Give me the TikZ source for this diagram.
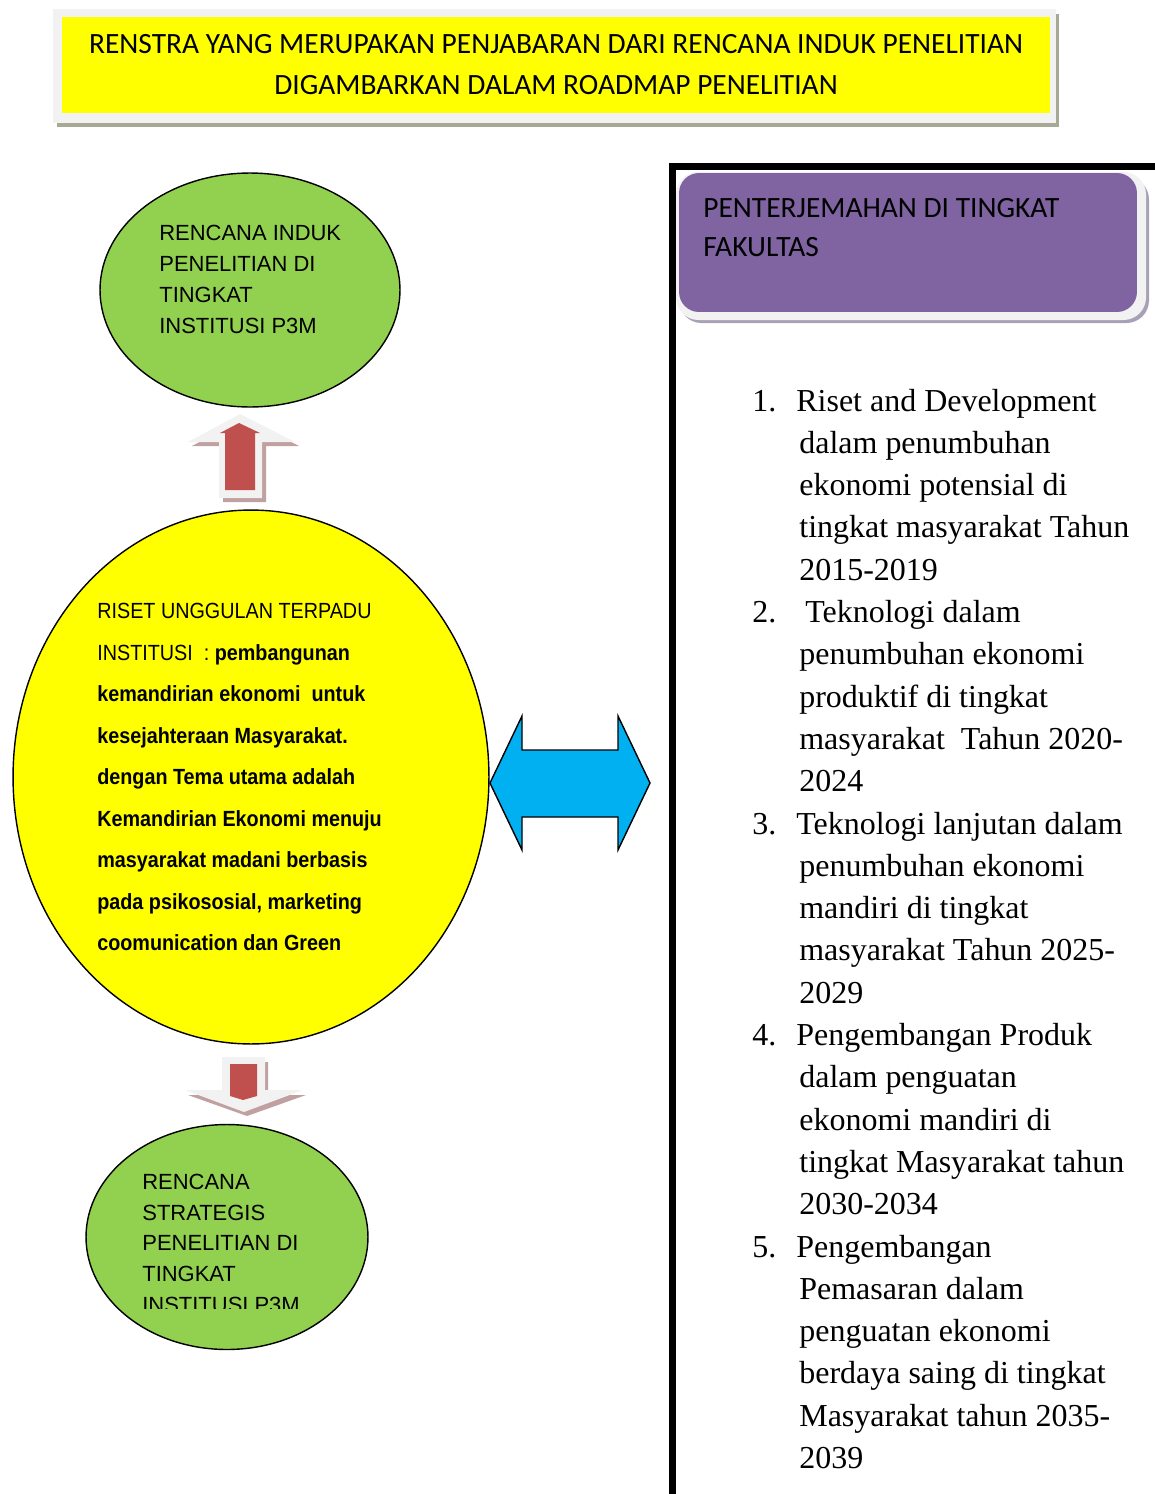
\documentclass[tikz,border=0pt]{standalone}
\usepackage{fontspec}
\setmainfont{Liberation Serif}
\newfontfamily\calibri{Carlito}
\newfontfamily\arial{Liberation Sans}
\newfontfamily\arialnarrow[FakeStretch=0.9]{Liberation Sans}
\usetikzlibrary{shapes,positioning}
\definecolor{hdryellow}{HTML}{FFFF00}
\definecolor{leafgreen}{HTML}{92D050}
\definecolor{fakpurple}{HTML}{8064A2}
\definecolor{skyblue}{HTML}{00B0F0}
\definecolor{arrowred}{HTML}{C0504D}
\definecolor{arrowshade}{HTML}{C0A0A0}
\definecolor{paleframe}{HTML}{F2F2F2}
\definecolor{hdrshade}{HTML}{A8A896}
\definecolor{fakshade}{HTML}{A8A0B4}

\begin{document}
\begin{tikzpicture}[x=0.02cm, y=-0.02cm,
    hdrbox/.style={
            fill=hdryellow,
            minimum width=19.76cm,
            minimum height=1.92cm,
            align=center,
            font=\calibri\fontsize{16.75}{23.3}\selectfont
        },
        ellbox/.style={
            draw,
            ellipse,
            line width=0.8pt,
            inner sep=0pt
        },
        elltext/.style={
            anchor=base west,
            inner sep=0pt,
            font=\arial\fontsize{12.5}{15}\selectfont
        },
        fakbox/.style={
            rounded corners=0.4cm,
            inner sep=0pt
        },
        itemtext/.style={
            anchor=base west,
            inner sep=0pt,
            font=\fontsize{18.2}{22}\selectfont
        }
]
    \useasboundingbox (0,0) rectangle (1155,1494);

    % judul
    \fill[hdrshade] (57,14) rectangle (1059,127);
    \fill[paleframe] (53,9) rectangle (1056,123);
    \node [hdrbox] (hdr) at (556,65) {RENSTRA YANG MERUPAKAN PENJABARAN DARI RENCANA INDUK PENELITIAN\\DIGAMBARKAN DALAM ROADMAP PENELITIAN};

    % lingkaran kiri
    \node [ellbox, fill=leafgreen, minimum width=6cm, minimum height=4.68cm] (rip) at (250,290) {};
    \node [ellbox, fill=hdryellow, minimum width=9.52cm, minimum height=10.68cm] (rut) at (251,777) {};
    \node [ellbox, fill=leafgreen, minimum width=5.64cm, minimum height=4.5cm] (rsp) at (227,1237) {};

    \foreach \t [count=\i] in {RENCANA INDUK, PENELITIAN DI, TINGKAT, INSTITUSI P3M}
        \node [elltext] (rip\i) at (159,{209+31*\i}) {\t};

    \foreach \t [count=\i] in {RISET UNGGULAN TERPADU,
            INSTITUSI\ \ : \textbf{pembangunan},
            \textbf{kemandirian ekonomi\ \ untuk},
            \textbf{kesejahteraan Masyarakat.},
            \textbf{dengan Tema utama adalah},
            \textbf{Kemandirian Ekonomi menuju},
            \textbf{masyarakat madani berbasis},
            {\textbf{pada psikososial, marketing}},
            \textbf{coomunication dan Green}}
        \node [elltext, font=\arialnarrow\fontsize{12.5}{15}\selectfont] (rut\i) at (97,{577+41.5*\i}) {\t};

    \begin{scope}
        \clip (0,1100) rectangle (600,1308);
        \foreach \t [count=\i] in {RENCANA, STRATEGIS, PENELITIAN DI, TINGKAT, INSTITUSI P3M}
            \node [elltext] (rsp\i) at (142,{1159+30.6*\i}) {\t};
    \end{scope}

    % panah atas dan bawah
    \fill[arrowshade] (244,418) -- (299,446) -- (266,446) -- (266,502) -- (223,502) -- (223,446) -- (192,446) -- cycle;
    \fill[paleframe] (240,414) -- (295,442) -- (262,442) -- (262,498) -- (219,498) -- (219,442) -- (188,442) -- cycle;
    \fill[arrowred] (239,423) -- (260,433) -- (255,433) -- (255,490) -- (225,490) -- (225,433) -- (220,433) -- cycle;

    \fill[arrowshade] (226,1062) -- (268,1062) -- (268,1095) -- (306,1095) -- (247,1116) -- (188,1095) -- (226,1095) -- cycle;
    \fill[paleframe] (222,1057) -- (265,1057) -- (265,1090) -- (303,1090) -- (244,1112) -- (185,1090) -- (222,1090) -- cycle;
    \fill[arrowred] (230,1064) -- (257,1064) -- (257,1096) -- (243,1100) -- (230,1096) -- cycle;

    % panah dua arah
    \draw[fill=skyblue, line width=0.8pt, line join=miter]
        (490,783) -- (522,716) -- (522,750) -- (618,750) -- (618,716) -- (650,783)
        -- (618,850) -- (618,817) -- (522,817) -- (522,850) -- cycle;

    % kolom kanan
    \draw[line width=0.14cm] (672,1494) -- (672,166) -- (1155,166);
    \fill[fakshade, rounded corners=0.45cm] (679,177) rectangle (1149,323);
    \fill[paleframe, rounded corners=0.45cm] (676,172) rectangle (1146,320);
    \node [fakbox, fill=fakpurple, minimum width=9.16cm, minimum height=2.78cm] (fak) at (908,242.5) {};
    \node [anchor=base west, inner sep=0pt, font=\calibri\fontsize{16.75}{23.3}\selectfont] (fak1) at (703,217) {PENTERJEMAHAN DI TINGKAT};
    \node [inner sep=0pt, font=\calibri\fontsize{16.75}{23.3}\selectfont, below=0.8cm of fak1.base west, anchor=base west] (fak2) {FAKULTAS};

    \foreach \n [count=\i from 0] in {1,2,3,4,5}
        \node [itemtext] (num\n) at (752,{411+42.3*5*\i}) {\n.};

    \foreach \x/\t [count=\i from 0] in {
            796/Riset and Development, 799/dalam penumbuhan, 799/ekonomi potensial di,
            799/tingkat masyarakat Tahun, 799/2015-2019,
            805/Teknologi dalam, 799/penumbuhan ekonomi, 799/produktif di tingkat,
            799/masyarakat\ \ Tahun 2020-, 799/2024,
            796/Teknologi lanjutan dalam, 799/penumbuhan ekonomi, 799/mandiri di tingkat,
            799/masyarakat Tahun 2025-, 799/2029,
            796/Pengembangan Produk, 799/dalam penguatan, 799/ekonomi mandiri di,
            799/tingkat Masyarakat tahun, 799/2030-2034,
            796/Pengembangan, 799/Pemasaran dalam, 799/penguatan ekonomi,
            799/berdaya saing di tingkat, 799/Masyarakat tahun 2035-, 799/2039}
        \node [itemtext] (line\i) at (\x,{411+42.3*\i}) {\t};
\end{tikzpicture}
\end{document}
